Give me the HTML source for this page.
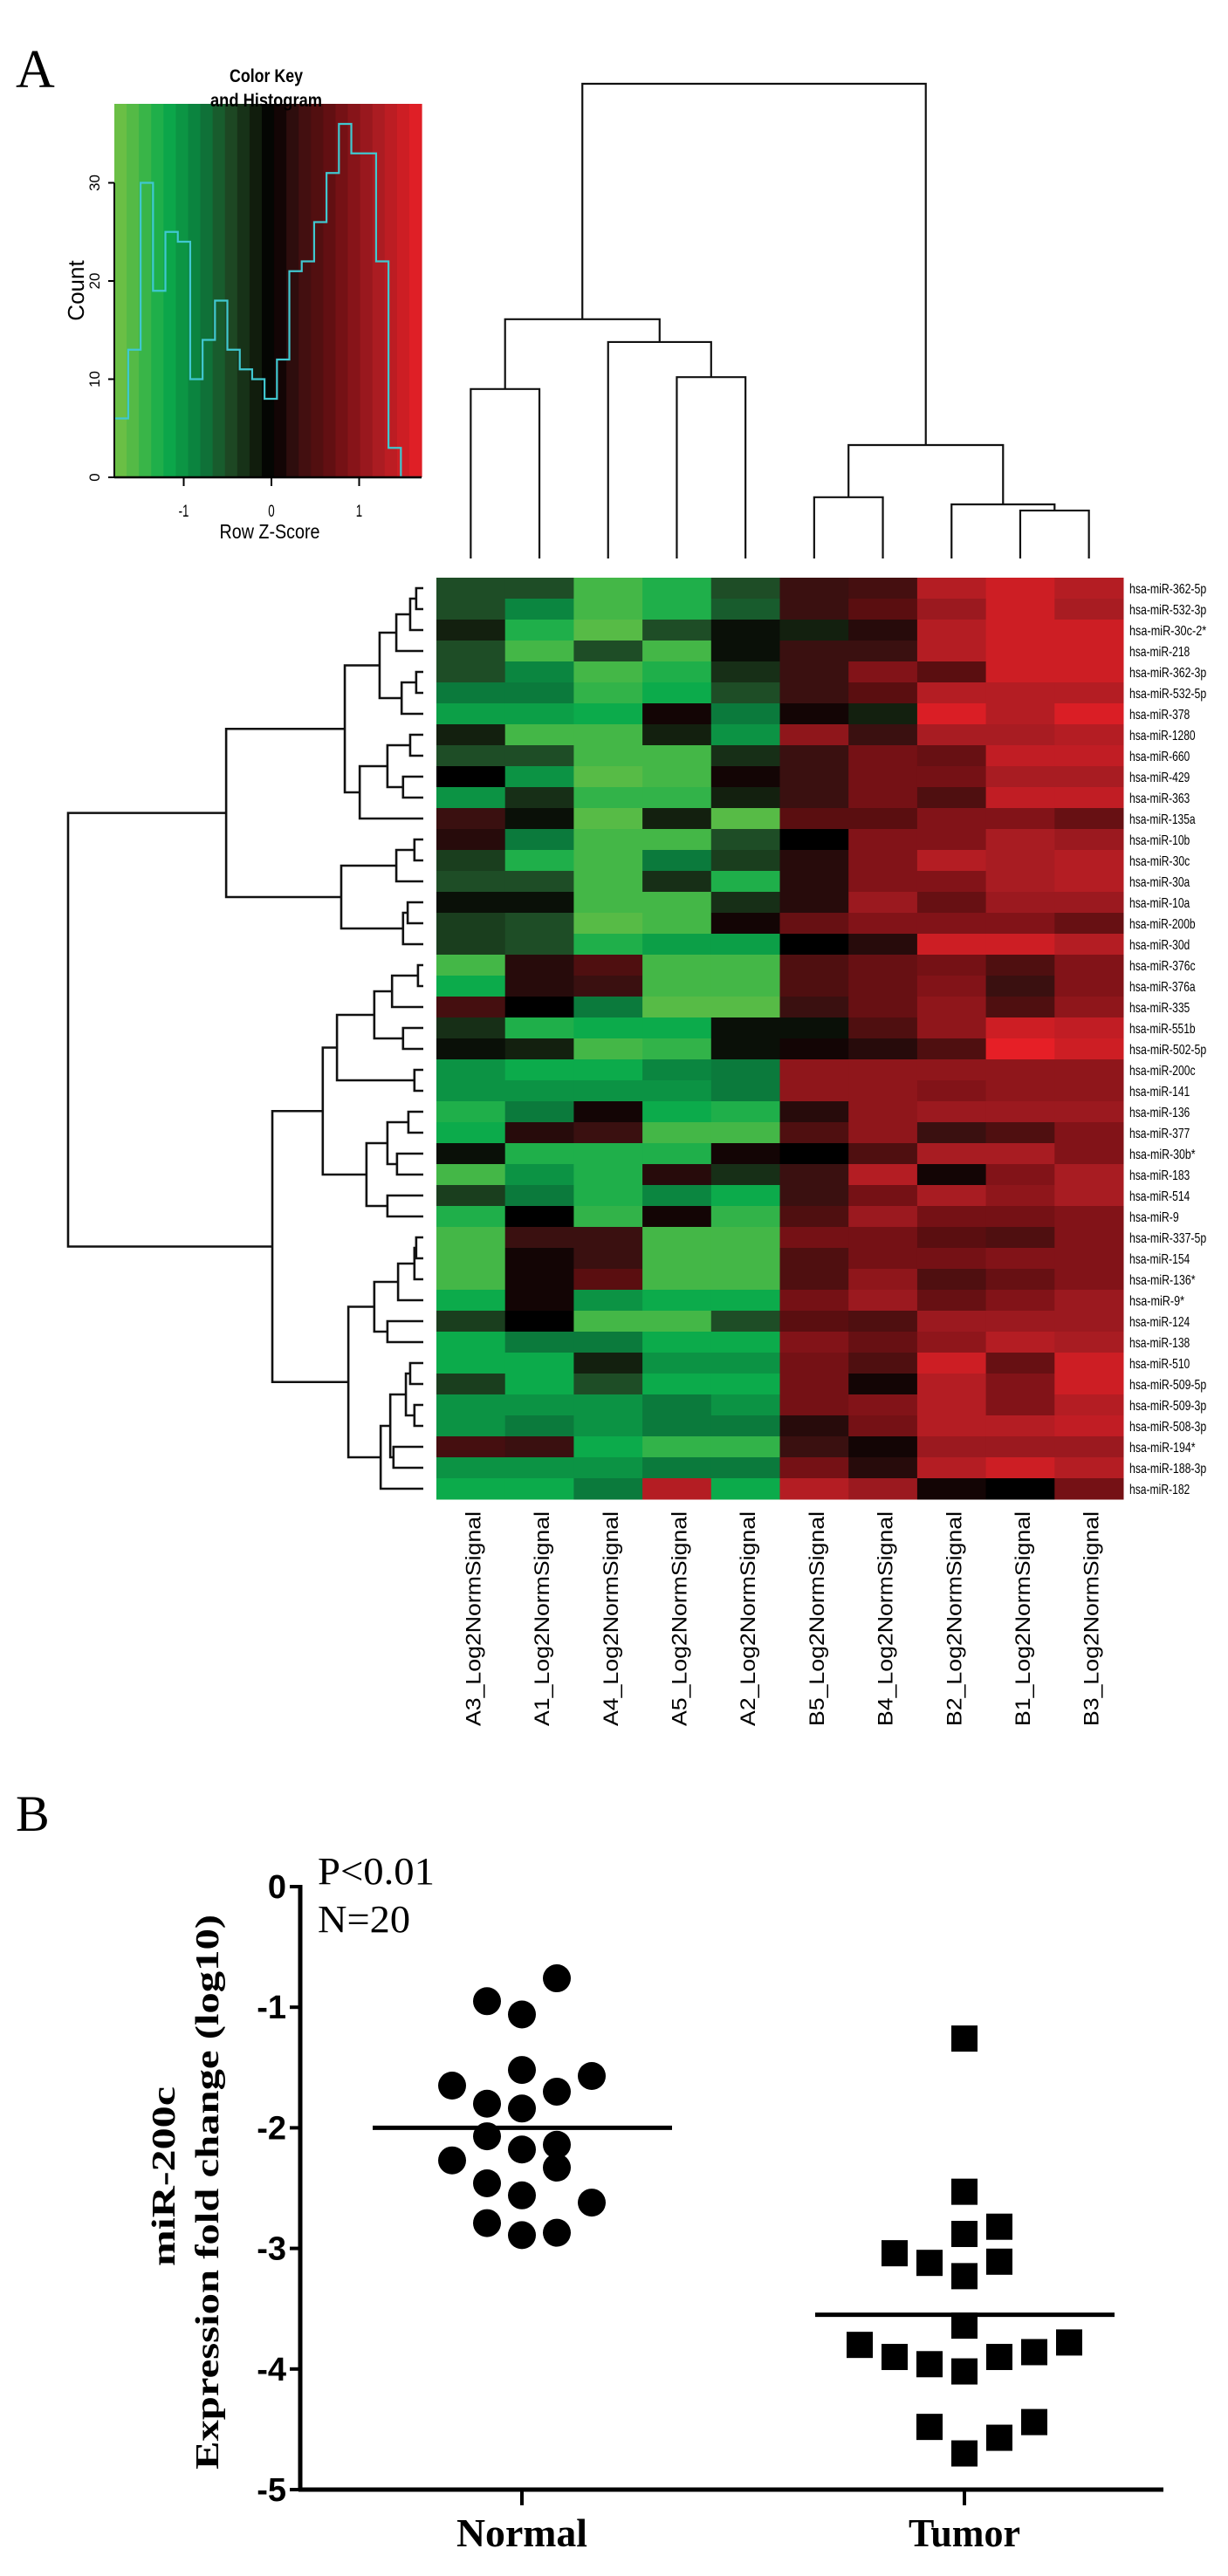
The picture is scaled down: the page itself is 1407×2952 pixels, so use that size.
<!DOCTYPE html>
<html><head><meta charset="utf-8"><style>
html,body{margin:0;padding:0;background:#fff;}
svg{display:block;}
</style></head><body>
<svg id="fig" width="1407" height="2952" viewBox="0 0 1407 2952" xmlns="http://www.w3.org/2000/svg">
<rect width="1407" height="2952" fill="#fff"/>
<text x="18" y="100" font-family="Liberation Serif, serif" font-size="62">A</text>
<text x="18" y="2098" font-family="Liberation Serif, serif" font-size="58">B</text>
<g id="key"></g>
<g id="coldendro"></g>
<g id="rowdendro"></g>
<g id="heat"></g>
<g id="scatter"></g>
</svg>
<script>
const NS='http://www.w3.org/2000/svg';
// ---------- data ----------
const histCounts=[6,13,30,19,25,24,10,14,18,13,11,10,8,12,21,22,26,31,36,33,33,22,3,0,0];
const histStart=-1.774, histBinW=0.1413;
const keyTicksX=[-1,0,1];
const keyTicksY=[0,10,20,30];
const colLabels=['A3_Log2NormSignal','A1_Log2NormSignal','A4_Log2NormSignal','A5_Log2NormSignal','A2_Log2NormSignal','B5_Log2NormSignal','B4_Log2NormSignal','B2_Log2NormSignal','B1_Log2NormSignal','B3_Log2NormSignal'];
const rowLabels=['hsa-miR-362-5p','hsa-miR-532-3p','hsa-miR-30c-2*','hsa-miR-218','hsa-miR-362-3p','hsa-miR-532-5p','hsa-miR-378','hsa-miR-1280','hsa-miR-660','hsa-miR-429','hsa-miR-363','hsa-miR-135a','hsa-miR-10b','hsa-miR-30c','hsa-miR-30a','hsa-miR-10a','hsa-miR-200b','hsa-miR-30d','hsa-miR-376c','hsa-miR-376a','hsa-miR-335','hsa-miR-551b','hsa-miR-502-5p','hsa-miR-200c','hsa-miR-141','hsa-miR-136','hsa-miR-377','hsa-miR-30b*','hsa-miR-183','hsa-miR-514','hsa-miR-9','hsa-miR-337-5p','hsa-miR-154','hsa-miR-136*','hsa-miR-9*','hsa-miR-124','hsa-miR-138','hsa-miR-510','hsa-miR-509-5p','hsa-miR-509-3p','hsa-miR-508-3p','hsa-miR-194*','hsa-miR-188-3p','hsa-miR-182'];
const zScores=[
[-0.5,-0.5,-1.5,-1.3,-0.5,0.3,0.4,1.3,1.5,1.3],
[-0.5,-0.9,-1.5,-1.3,-0.6,0.3,0.6,1.1,1.5,1.2],
[-0.2,-1.3,-1.6,-0.5,-0.1,-0.2,0.2,1.3,1.5,1.5],
[-0.5,-1.5,-0.5,-1.5,-0.1,0.3,0.3,1.3,1.5,1.5],
[-0.5,-0.9,-1.5,-1.3,-0.3,0.3,0.9,0.6,1.5,1.5],
[-0.8,-0.8,-1.4,-1.2,-0.5,0.3,0.6,1.3,1.3,1.3],
[-1.1,-1.1,-1.2,0.1,-0.8,0.1,-0.2,1.6,1.3,1.6],
[-0.2,-1.5,-1.5,-0.2,-1.0,1.0,0.3,1.2,1.2,1.3],
[-0.5,-0.5,-1.5,-1.5,-0.3,0.3,0.8,0.7,1.4,1.4],
[0,-1.0,-1.6,-1.5,0.1,0.3,0.8,0.8,1.2,1.2],
[-1.0,-0.3,-1.4,-1.4,-0.2,0.3,0.8,0.5,1.4,1.4],
[0.3,-0.1,-1.6,-0.2,-1.6,0.6,0.6,0.9,0.9,0.7],
[0.2,-0.8,-1.5,-1.5,-0.5,0,0.9,0.9,1.2,1.1],
[-0.4,-1.3,-1.5,-0.8,-0.4,0.2,0.9,1.3,1.2,1.3],
[-0.5,-0.5,-1.5,-0.3,-1.3,0.2,0.9,0.9,1.2,1.3],
[-0.1,-0.1,-1.5,-1.5,-0.3,0.2,1.1,0.7,1.1,1.1],
[-0.4,-0.5,-1.6,-1.5,0.1,0.7,0.9,0.9,0.9,0.7],
[-0.4,-0.5,-1.3,-1.1,-1.1,0,0.2,1.5,1.5,1.3],
[-1.5,0.2,0.5,-1.5,-1.5,0.5,0.7,0.8,0.5,0.9],
[-1.2,0.2,0.3,-1.5,-1.5,0.5,0.7,0.9,0.3,0.9],
[0.4,0,-0.8,-1.6,-1.6,0.3,0.7,1.0,0.5,1.0],
[-0.3,-1.3,-1.2,-1.2,-0.1,-0.1,0.5,1.0,1.5,1.4],
[-0.1,-0.2,-1.5,-1.4,-0.1,0.1,0.2,0.5,1.7,1.5],
[-1.0,-1.2,-1.2,-0.9,-0.8,1.0,1.0,1.0,1.0,1.0],
[-1.0,-1.0,-1.0,-1.0,-0.8,1.0,1.0,0.9,1.0,1.0],
[-1.3,-0.8,0.1,-1.2,-1.3,0.2,1.0,1.1,1.1,1.1],
[-1.2,0.2,0.3,-1.5,-1.5,0.5,1.0,0.3,0.5,0.9],
[-0.1,-1.3,-1.3,-1.3,0.1,0,0.5,1.2,1.2,0.9],
[-1.5,-1.0,-1.3,0.2,-0.3,0.3,1.3,0.1,0.9,1.2],
[-0.4,-0.8,-1.3,-0.9,-1.2,0.3,0.8,1.2,1.0,1.2],
[-1.3,0,-1.4,0.1,-1.4,0.5,1.1,0.8,0.8,0.9],
[-1.5,0.3,0.3,-1.5,-1.5,0.8,0.8,0.6,0.5,0.9],
[-1.5,0.1,0.3,-1.5,-1.5,0.5,0.8,0.8,0.9,0.9],
[-1.5,0.1,0.6,-1.5,-1.5,0.5,1.0,0.5,0.7,0.9],
[-1.2,0.1,-1.0,-1.2,-1.2,0.8,1.1,0.7,0.9,1.1],
[-0.4,0,-1.5,-1.5,-0.5,0.6,0.5,1.1,1.1,1.1],
[-1.2,-0.8,-0.8,-1.2,-1.2,0.9,0.7,1.0,1.3,1.2],
[-1.2,-1.2,-0.2,-1.0,-1.0,0.8,0.5,1.5,0.7,1.5],
[-0.4,-1.2,-0.5,-1.2,-1.2,0.8,0.1,1.3,0.9,1.5],
[-1.0,-1.0,-1.0,-0.8,-1.0,0.8,0.9,1.3,0.9,1.3],
[-1.0,-0.8,-1.0,-0.8,-0.8,0.2,0.8,1.3,1.3,1.4],
[0.4,0.3,-1.2,-1.4,-1.4,0.3,0.1,1.1,1.1,1.1],
[-1.0,-1.0,-1.0,-0.8,-0.8,0.8,0.2,1.3,1.5,1.3],
[-1.2,-1.2,-0.8,1.3,-1.2,1.3,1.1,0.1,0,0.8]];
// dendrograms: [left,right,height] with height on 0..100 scale
const rowTree=[[[[[[[[0,1,2],2,3.7],3,7.6],[[4,5,2],6,6.1],12.3],[[[7,8,3.7],[9,10,5.7],10.1],11,17.9],22.1],[[[12,13,2.5],14,7.6],[[15,16,4.4],17,5.7],23.1],55.5],
 [[[[[[18,19,1.5],20,8.8],[21,22,5.7],13.8],[23,24,2.5],24.3],[[[25,26,4.2],[27,28,7.4],10.1],[29,30,10.1],16],28.3],
  [[[[[31,32,2],33,2.5],34,7.1],[35,36,10.1],13.8],[[[[37,38,3.7],[39,40,2.5],4.9],[41,42,8.4],9.3],43,12],21.1],42.5],100]][0];
const colTree=[[[0,1,35.7],[2,[3,4,38.2],45.6],50.4],[[5,6,12.9],[7,[8,9,10.1],11.4],23.9],100];
// scatter
const groups=['Normal','Tumor'];
const normalVals=[-0.76,-0.95,-1.06,-1.52,-1.57,-1.65,-1.70,-1.80,-1.84,-2.07,-2.14,-2.18,-2.27,-2.33,-2.46,-2.56,-2.62,-2.79,-2.87,-2.89];
const normalJitter=[1,-1,0,0,2,-2,1,-1,0,-1,1,0,-2,1,-1,0,2,-1,1,0];
const tumorVals=[-1.26,-2.53,-2.82,-2.88,-3.04,-3.12,-3.11,-3.23,-3.64,-3.80,-3.90,-3.96,-3.90,-3.86,-3.78,-4.02,-4.48,-4.44,-4.57,-4.70];
const tumorJitter=[0,0,1,0,-2,-1,1,0,0,-3,-2,-1,1,2,3,0,-1,2,1,0];
const groupMeans=[-2.0,-3.55];
const yTicksB=[0,-1,-2,-3,-4,-5];

// ---------- helpers ----------
function mk(parent,tag,attrs){const e=document.createElementNS(NS,tag);for(const k in attrs)e.setAttribute(k,attrs[k]);parent.appendChild(e);return e;}
const stops=[[-1.7,[106,191,69]],[-1.2,[12,171,75]],[-0.8,[11,122,60]],[-0.5,[30,77,38]],[-0.2,[19,32,15]],[0,[0,0,0]],[0.3,[58,16,16]],[0.6,[90,14,16]],[0.9,[130,19,24]],[1.2,[168,28,34]],[1.7,[230,31,38]]];
function zColor(z){z=Math.max(-1.7,Math.min(1.7,z));for(let i=0;i<stops.length-1;i++){const a=stops[i],b=stops[i+1];if(z<=b[0]){const t=(z-a[0])/(b[0]-a[0]);const c=a[1].map((v,j)=>Math.round(v+(b[1][j]-v)*t));return 'rgb('+c.join(',')+')';}}return 'rgb(230,31,38)';}

// ---------- color key ----------
const key=document.getElementById('key');
const kx=z=>311+z*100.5, ky=c=>547-c*11.25;
const kL=131,kR=483,kT=119;
const nStripe=25,sw=(kR-kL)/nStripe;
for(let i=0;i<nStripe;i++){const x0=kL+i*sw;const z=(x0+sw/2-311)/100.5;
 const r=mk(key,'rect',{x:x0,y:kT,width:sw+0.6,height:547-kT,fill:zColor(z*1.0)});
 
 }
let d='M'+kL+' '+ky(histCounts[0]);
histCounts.forEach((c,i)=>{const x0=kx(histStart+i*histBinW),x1=kx(histStart+(i+1)*histBinW);d+=' L'+x0+' '+ky(c)+' L'+Math.min(x1,kR)+' '+ky(c);});
const hp=mk(key,'path',{d:d,fill:'none',stroke:'#40c8d0','stroke-width':2.2});


mk(key,'line',{x1:kL,y1:547,x2:kR,y2:547,stroke:'#000','stroke-width':2.5});
mk(key,'line',{x1:kL,y1:ky(0),x2:kL,y2:ky(30),stroke:'#000','stroke-width':2});
keyTicksY.forEach(v=>{mk(key,'line',{x1:124,y1:ky(v),x2:kL,y2:ky(v),stroke:'#000','stroke-width':2});
 const t=mk(key,'text',{x:0,y:0,transform:'translate(114,'+ky(v)+') rotate(-90)','text-anchor':'middle','font-family':'Liberation Sans, sans-serif','font-size':17});t.textContent=v;
 
 });
keyTicksX.forEach(v=>{mk(key,'line',{x1:kx(v),y1:547,x2:kx(v),y2:557,stroke:'#000','stroke-width':2});
 const t=mk(key,'text',{x:kx(v),y:592,'text-anchor':'middle','font-family':'Liberation Sans, sans-serif','font-size':19,transform:'translate('+kx(v)+',0) scale(0.7,1) translate('+(-kx(v))+',0)'});t.textContent=v;
 
 });
function txt(parent,s,attrs,name){const t=mk(parent,'text',attrs);t.textContent=s;return t;}
txt(key,'Color Key',{x:305,y:94,'text-anchor':'middle','font-family':'Liberation Sans, sans-serif','font-weight':'bold','font-size':21,textLength:84,lengthAdjust:'spacingAndGlyphs'},'key-title');
txt(key,'and Histogram',{x:305,y:122,'text-anchor':'middle','font-family':'Liberation Sans, sans-serif','font-weight':'bold','font-size':21,textLength:128,lengthAdjust:'spacingAndGlyphs'},'key-subtitle');
txt(key,'Row Z-Score',{x:309,y:617,'text-anchor':'middle','font-family':'Liberation Sans, sans-serif','font-size':23,textLength:115,lengthAdjust:'spacingAndGlyphs'},'key-x-title');
txt(key,'Count',{x:0,y:0,transform:'translate(96,333) rotate(-90)','text-anchor':'middle','font-family':'Liberation Sans, sans-serif','font-size':26},'key-y-title');

// ---------- heatmap ----------
const heat=document.getElementById('heat');
const hL=500,hR=1287,hT=662,rowH=24,nCol=colLabels.length;const colW=(hR-hL)/nCol;
const cx=j=>hL+colW*(j+0.5), ry=i=>hT+rowH*(i+0.5);
zScores.forEach((row,i)=>row.forEach((z,j)=>{const r=mk(heat,'rect',{x:hL+colW*j,y:hT+rowH*i,width:colW+0.5,height:rowH+0.5,fill:zColor(z)});
 
 }));
rowLabels.forEach((s,i)=>{txt(heat,s,{x:1294,y:ry(i)+6,'font-family':'Liberation Sans, sans-serif','font-size':16,textLength:s.length*6.3,lengthAdjust:'spacingAndGlyphs'},'row-label');});
colLabels.forEach((s,j)=>{txt(heat,s,{x:0,y:0,transform:'translate('+(cx(j)+11)+',1978) rotate(-90)','font-family':'Liberation Sans, sans-serif','font-size':24,textLength:246,lengthAdjust:'spacingAndGlyphs'},'column-label');});

// ---------- dendrograms ----------
function drawTree(g,node,pos,hpos,orient,sw){
 if(typeof node==='number')return [pos(node),hpos(0)];
 const a=drawTree(g,node[0],pos,hpos,orient,sw),b=drawTree(g,node[1],pos,hpos,orient,sw);const h=hpos(node[2]);
 let p;
 if(orient==='row')p='M'+a[1]+' '+a[0]+' H'+h+' V'+b[0]+' H'+b[1];
 else p='M'+a[0]+' '+a[1]+' V'+h+' H'+b[0]+' V'+b[1];
 const e=mk(g,'path',{d:p,fill:'none',stroke:'#111','stroke-width':sw});
 
 
 return [(a[0]+b[0])/2,h];}
drawTree(document.getElementById('rowdendro'),rowTree,ry,h=>485-h*4.07,'row',2.6);
drawTree(document.getElementById('coldendro'),colTree,cx,h=>640-h*5.44,'col',2.2);

// ---------- scatter panel B ----------
const sc=document.getElementById('scatter');
const yB=v=>2162-v*138.2;const gX=[598,1105];const jStep=40;
mk(sc,'line',{x1:344,y1:yB(0)-2,x2:344,y2:yB(-5)+2,stroke:'#000','stroke-width':5});
mk(sc,'line',{x1:342,y1:yB(-5),x2:1333,y2:yB(-5),stroke:'#000','stroke-width':5});
yTicksB.forEach(v=>{mk(sc,'line',{x1:332,y1:yB(v),x2:344,y2:yB(v),stroke:'#000','stroke-width':4});
 txt(sc,String(v),{x:328,y:yB(v)+13,'text-anchor':'end','font-family':'Liberation Sans, sans-serif','font-weight':'bold','font-size':38},'y-tick-label');});
groups.forEach((s,k)=>{mk(sc,'line',{x1:gX[k],y1:yB(-5),x2:gX[k],y2:yB(-5)+18,stroke:'#000','stroke-width':4});
 txt(sc,s,{x:gX[k],y:2918,'text-anchor':'middle','font-family':'Liberation Serif, serif','font-weight':'bold','font-size':46,textLength:s==='Normal'?150:128,lengthAdjust:'spacingAndGlyphs'},'x-category-label');});
normalVals.forEach((v,i)=>{const c=mk(sc,'ellipse',{cx:gX[0]+normalJitter[i]*jStep,cy:yB(v),rx:16,ry:16,fill:'#000'});
 
 });
tumorVals.forEach((v,i)=>{const r=mk(sc,'rect',{x:gX[1]+tumorJitter[i]*jStep-15,y:yB(v)-15,width:30,height:30,fill:'#000'});
 
 });
groupMeans.forEach((m,k)=>{const l=mk(sc,'line',{x1:gX[k]-171,y1:yB(m),x2:gX[k]+172,y2:yB(m),stroke:'#000','stroke-width':5});
 
 });
txt(sc,'P<0.01',{x:364,y:2159,'font-family':'Liberation Serif, serif','font-size':44,textLength:134,lengthAdjust:'spacingAndGlyphs'},'p-value-annotation');
txt(sc,'N=20',{x:364,y:2214,'font-family':'Liberation Serif, serif','font-size':44,textLength:106,lengthAdjust:'spacingAndGlyphs'},'n-annotation');
txt(sc,'miR-200c',{x:0,y:0,transform:'translate(200,2494) rotate(-90)','text-anchor':'middle','font-family':'Liberation Serif, serif','font-weight':'bold','font-size':38,textLength:206,lengthAdjust:'spacingAndGlyphs'},'y-axis-title-line1');
txt(sc,'Expression fold change (log10)',{x:0,y:0,transform:'translate(250,2512) rotate(-90)','text-anchor':'middle','font-family':'Liberation Serif, serif','font-weight':'bold','font-size':38,textLength:636,lengthAdjust:'spacingAndGlyphs'},'y-axis-title-line2');
</script>
</body></html>
